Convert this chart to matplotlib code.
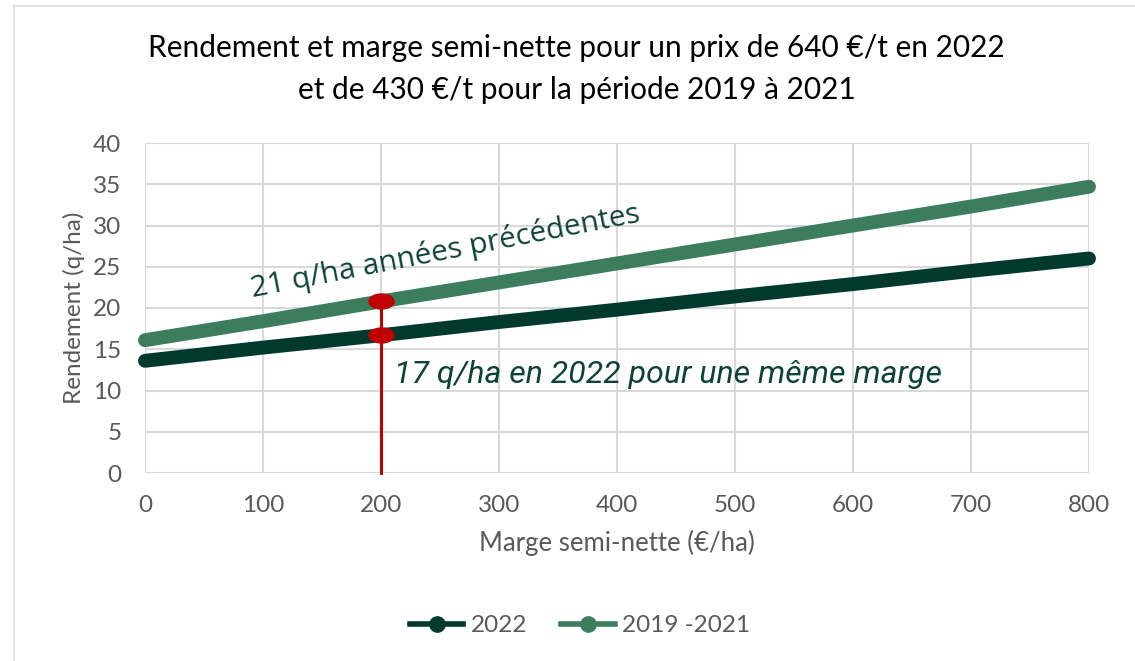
import matplotlib.pyplot as plt
from matplotlib.path import Path
from matplotlib.transforms import Affine2D
from matplotlib.patches import Rectangle
from matplotlib.lines import Line2D

# Données
marge = [0, 100, 200, 300, 400, 500, 600, 700, 800]
rdt_2022 = [13.6, 15.2, 16.7, 18.3, 19.8, 21.4, 22.9, 24.5, 26.0]
rdt_2019_2021 = [16.1, 18.4, 20.8, 23.1, 25.4, 27.7, 30.0, 32.3, 34.7]
marge_ref = 200
y_ticks = [0, 5, 10, 15, 20, 25, 30, 35, 40]
x_ticks = [0, 100, 200, 300, 400, 500, 600, 700, 800]

C_2022 = '#01392f'
C_PREC = '#3b7d5d'
C_ROUGE = '#c00000'
C_TEXTE = '#595959'
C_ANNOT = '#0d4236'

plt.rcParams['font.family'] = ['Lato', 'DejaVu Sans']

fig = plt.figure(figsize=(11.35, 6.61), dpi=100)
ax = fig.add_axes([145 / 1135, 1 - 473 / 661, (1089 - 145) / 1135, (473 - 143) / 661])

# cadre de la zone graphique
fig.patches.append(Rectangle((14 / 1135, -0.1), 1.2, 1 - 6 / 661 + 0.1,
                             transform=fig.transFigure, fill=False,
                             edgecolor='#e3e3e3', lw=1.5))

ax.plot(marge, rdt_2022, color=C_2022, lw=10, solid_capstyle='round', zorder=3,
        clip_on=False)
ax.plot(marge, rdt_2019_2021, color=C_PREC, lw=10, solid_capstyle='round', zorder=3,
        clip_on=False)

# repère à 200 €/ha
i_ref = marge.index(marge_ref)
ellipse = Path.unit_circle().transformed(Affine2D().scale(1, 0.6))
ax.plot([marge_ref, marge_ref], [0, rdt_2019_2021[i_ref]], color=C_ROUGE, lw=2.2,
        zorder=4, clip_on=False)
ax.plot([marge_ref, marge_ref], [rdt_2022[i_ref], rdt_2019_2021[i_ref]], ls='none',
        marker=ellipse, ms=18, color=C_ROUGE, zorder=5)

ax.text(91.5, 21.3, '21 q/ha années précédentes', rotation=11, rotation_mode='anchor',
        ha='left', va='baseline', fontsize=21.5, color=C_ANNOT,
        family=['Open Sans', 'DejaVu Sans'], zorder=6)
ax.text(211, 10.9, '17 q/ha en 2022 pour une même marge', fontsize=23, style='italic',
        ha='left', va='baseline', color=C_ANNOT, family=['Roboto', 'DejaVu Sans'], zorder=6)

ax.set_xlim(0, 800)
ax.set_ylim(0, 40)
ax.set_xticks(x_ticks)
ax.set_yticks(y_ticks)
ax.grid(True, color='#d9d9d9', lw=1.5)
ax.set_axisbelow(True)
for s in ax.spines.values():
    s.set_visible(False)
ax.tick_params(length=0, labelsize=17.5, labelcolor=C_TEXTE)
ax.tick_params(axis='x', pad=16)
ax.tick_params(axis='y', pad=17)

ax.set_xlabel('Marge semi-nette (€/ha)', fontsize=18.5, color=C_TEXTE, labelpad=10)
ax.set_ylabel('Rendement (q/ha)', fontsize=17.5, color=C_TEXTE, labelpad=6)

fig.text(0.508, 0.928, 'Rendement et marge semi-nette pour un prix de 640 €/t en 2022',
         ha='center', va='center', fontsize=21.5, color='black')
fig.text(0.508, 0.864, 'et de 430 €/t pour la période 2019 à 2021',
         ha='center', va='center', fontsize=21.5, color='black')

handles = [Line2D([], [], color=C_2022, lw=4, marker='o', ms=11),
           Line2D([], [], color=C_PREC, lw=4, marker='o', ms=11)]
fig.legend(handles, ['2022', '2019 -2021'], loc='center', bbox_to_anchor=(0.511, 0.053),
           ncol=2, frameon=False, fontsize=17.5, labelcolor=C_TEXTE,
           handlelength=2.2, handletextpad=0.3, columnspacing=1.4)

fig.savefig('out.png', dpi=100)
